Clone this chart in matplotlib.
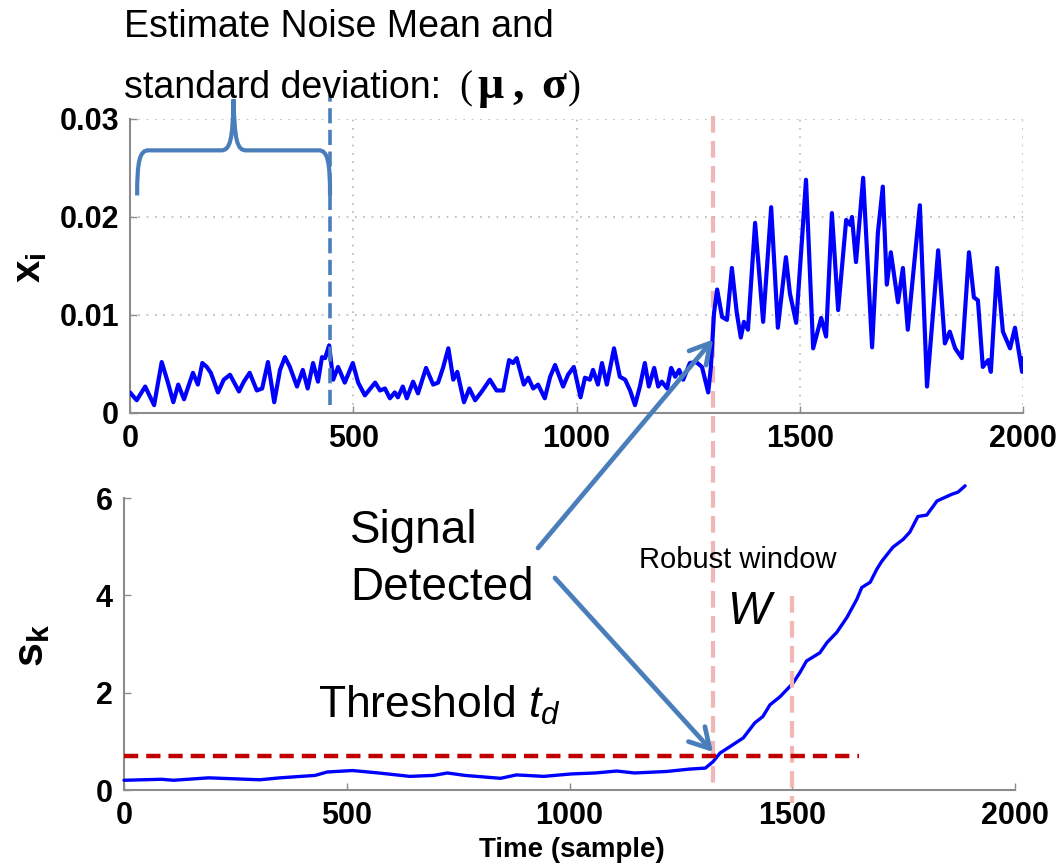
import matplotlib
matplotlib.use("Agg")
import matplotlib.pyplot as plt
from matplotlib.path import Path
from matplotlib.patches import PathPatch

plt.rcParams["font.family"] = ["Liberation Sans", "DejaVu Sans"]
plt.rcParams["mathtext.fontset"] = "custom"
plt.rcParams["mathtext.rm"] = "Liberation Sans"
plt.rcParams["mathtext.it"] = "Liberation Sans:italic"
plt.rcParams["mathtext.bf"] = "Liberation Sans:bold"

# ---- data ----
x_top = [0, 15, 34, 54, 71, 85, 97, 108, 121, 141, 152, 162, 172, 181, 197, 210, 224,
         244, 255, 268, 284, 296, 309, 323, 336, 347, 358, 374, 387, 398, 410, 421, 430,
         437, 446, 455, 466, 481, 499, 511, 526, 549, 560, 571, 582, 593, 600, 611, 620,
         634, 645, 663, 679, 690, 701, 713, 724, 733, 748, 760, 773, 788, 806, 821, 836,
         849, 858, 866, 882, 892, 903, 914, 929, 941, 952, 970, 981, 994, 1009, 1019,
         1030, 1037, 1048, 1057, 1068, 1084, 1097, 1109, 1120, 1131, 1142, 1153, 1162,
         1174, 1183, 1191, 1203, 1212, 1221, 1230, 1239, 1254, 1268, 1281, 1295, 1301,
         1308, 1315, 1326, 1337, 1348, 1359, 1368, 1375, 1384, 1400, 1418, 1436, 1451,
         1469, 1478, 1492, 1505, 1514, 1530, 1548, 1559, 1572, 1586, 1604, 1613, 1617,
         1626, 1642, 1662, 1675, 1686, 1695, 1704, 1720, 1731, 1742, 1769, 1785, 1810,
         1825, 1836, 1848, 1863, 1879, 1890, 1899, 1910, 1922, 1928, 1942, 1955, 1971,
         1982, 1998, 2000]
y_top = [0.0021, 0.0013, 0.0027, 0.0008, 0.0052, 0.0031, 0.0011, 0.0029, 0.0014, 0.0041,
         0.0029, 0.0051, 0.0047, 0.0041, 0.0021, 0.0034, 0.0039, 0.0022, 0.0032, 0.0041,
         0.0023, 0.0025, 0.0052, 0.0011, 0.0044, 0.0057, 0.0047, 0.0027, 0.0044, 0.0025,
         0.0051, 0.0032, 0.0057, 0.0056, 0.0069, 0.0034, 0.0047, 0.0031, 0.0051, 0.0031,
         0.0018, 0.0031, 0.0023, 0.0025, 0.0015, 0.0021, 0.0016, 0.0027, 0.0015, 0.0032,
         0.0020, 0.0046, 0.0029, 0.0031, 0.0046, 0.0066, 0.0034, 0.0042, 0.0011, 0.0025,
         0.0013, 0.0022, 0.0034, 0.0023, 0.0023, 0.0054, 0.0051, 0.0056, 0.0029, 0.0036,
         0.0025, 0.0029, 0.0015, 0.0037, 0.0049, 0.0027, 0.0039, 0.0047, 0.0016, 0.0036,
         0.0034, 0.0044, 0.0029, 0.0051, 0.0029, 0.0066, 0.0037, 0.0034, 0.0023, 0.0008,
         0.0027, 0.0051, 0.0027, 0.0046, 0.0027, 0.0032, 0.0025, 0.0046, 0.0037, 0.0044,
         0.0034, 0.0051, 0.0052, 0.0047, 0.0021, 0.0047, 0.0102, 0.0126, 0.0098, 0.0095,
         0.0148, 0.0102, 0.0077, 0.0093, 0.0085, 0.0194, 0.0093, 0.0210, 0.0087, 0.0159,
         0.0122, 0.0092, 0.0177, 0.0238, 0.0066, 0.0097, 0.0078, 0.0204, 0.0105, 0.0197,
         0.0192, 0.0200, 0.0154, 0.0240, 0.0067, 0.0184, 0.0231, 0.0131, 0.0164, 0.0113,
         0.0148, 0.0085, 0.0212, 0.0027, 0.0166, 0.0071, 0.0083, 0.0066, 0.0056, 0.0164,
         0.0118, 0.0115, 0.0047, 0.0054, 0.0042, 0.0148, 0.0083, 0.0066, 0.0087, 0.0042,
         0.0056]

x_bot = [0, 84, 111, 190, 305, 350, 429, 456, 513, 571, 642, 695, 726, 765, 845, 881,
         942, 1004, 1058, 1106, 1146, 1217, 1270, 1305, 1322, 1338, 1360, 1390, 1416,
         1434, 1450, 1473, 1502, 1517, 1532, 1562, 1578, 1600, 1623, 1645, 1656, 1675,
         1690, 1701, 1726, 1749, 1764, 1782, 1802, 1825, 1859, 1872, 1888]
y_bot = [0.20, 0.22, 0.20, 0.25, 0.21, 0.25, 0.30, 0.37, 0.40, 0.35, 0.28, 0.30, 0.35,
         0.30, 0.24, 0.31, 0.28, 0.33, 0.35, 0.39, 0.35, 0.38, 0.43, 0.45, 0.58, 0.76,
         0.89, 1.07, 1.38, 1.51, 1.75, 1.92, 2.20, 2.41, 2.65, 2.82, 3.03, 3.24, 3.55,
         3.92, 4.16, 4.27, 4.54, 4.70, 4.99, 5.15, 5.30, 5.62, 5.65, 5.94, 6.08, 6.12,
         6.25]

x_ticks = [0, 500, 1000, 1500, 2000]
x_ticklabels = ["0", "500", "1000", "1500", "2000"]
y_top_ticks = [0, 0.01, 0.02, 0.03]
y_top_ticklabels = ["0", "0.01", "0.02", "0.03"]
y_bot_ticks = [0, 2, 4, 6]
y_bot_ticklabels = ["0", "2", "4", "6"]

noise_end = 448        # end of noise estimation window
detect_at = 1306       # detection sample
window_end = 1500      # end of robust window
threshold = 0.70

BLUE = "#0000ff"
STEEL = "#4a7ebb"
PINK = "#f2b6b6"
RED = "#c00000"
GREY = "#8c8c8c"

W, H = 1060, 866


def fx(x):
    return x / W


def fy(y):
    return 1 - y / H


def style_axes(ax, yticks, ylabels):
    ax.set_xlim(0, 2000)
    ax.set_xticks(x_ticks, x_ticklabels, fontsize=22, fontweight="bold")
    ax.set_yticks(yticks, ylabels, fontsize=22, fontweight="bold")
    ax.tick_params(direction="in", length=5, width=1, color=GREY, pad=8)
    for s in ["top", "right"]:
        ax.spines[s].set_visible(False)
    for s in ["left", "bottom"]:
        ax.spines[s].set_color(GREY)
        ax.spines[s].set_linewidth(1.5)
    ax.set_facecolor("none")


fig = plt.figure(figsize=(10.6, 8.66), dpi=100)
ax1 = fig.add_axes([130 / W, 1 - 413 / H, 893 / W, 294 / H])
ax2 = fig.add_axes([124 / W, 1 - 790 / H, 891 / W, 292 / H])

# ---- top: x_i ----
style_axes(ax1, y_top_ticks, y_top_ticklabels)
ax1.set_ylim(0, 0.03)
ax1.grid(True, linestyle=(0, (1, 4)), color="#b5b5b5", linewidth=1.2)
ax1.plot([detect_at, detect_at], [0.0303, -0.0385], color=PINK, lw=3,
         dashes=(4, 2), clip_on=False, zorder=1)
ax1.plot(x_top, y_top, color=BLUE, lw=3, zorder=3,
         solid_joinstyle="round", solid_capstyle="round")
ax1.plot([noise_end, noise_end], [0.0008, 0.0324], color=STEEL, lw=2.6,
         dashes=(4.2, 1.8), clip_on=False, zorder=4)

# curly brace over the noise window
bx0, bx1 = 16, noise_end
bmid = (bx0 + bx1) / 2
verts = [(bx0, 0.0222), (bx0, 0.0256), (bx0 + 5, 0.0268), (bx0 + 25, 0.0268),
         (bmid - 28, 0.0268),
         (bmid - 8, 0.0268), (bmid - 2, 0.0278), (bmid, 0.0320),
         (bmid + 2, 0.0278), (bmid + 8, 0.0268), (bmid + 28, 0.0268),
         (bx1 - 25, 0.0268),
         (bx1 - 5, 0.0268), (bx1, 0.0256), (bx1, 0.0222)]
codes = [Path.MOVETO, Path.CURVE4, Path.CURVE4, Path.CURVE4, Path.LINETO,
         Path.CURVE4, Path.CURVE4, Path.CURVE4, Path.CURVE4, Path.CURVE4, Path.CURVE4,
         Path.LINETO, Path.CURVE4, Path.CURVE4, Path.CURVE4]
ax1.add_patch(PathPatch(Path(verts, codes), fill=False, edgecolor=STEEL, lw=3,
                        clip_on=False, zorder=4))

# ---- bottom: s_k ----
style_axes(ax2, y_bot_ticks, y_bot_ticklabels)
ax2.set_ylim(0, 6)
ax2.plot(x_bot, y_bot, color=BLUE, lw=2.4, clip_on=False, zorder=3,
         solid_joinstyle="round", solid_capstyle="round")
ax2.plot([window_end, window_end], [3.98, -0.27], color=PINK, lw=3,
         dashes=(4, 2), clip_on=False, zorder=4)
ax2.plot([0, 1650], [threshold, threshold], color=RED, lw=3.2,
         dashes=(3.2, 1.8), clip_on=False, zorder=5)

# ---- arrows ----
arrow = dict(arrowstyle="->,head_length=0.7,head_width=0.4", color=STEEL, lw=3.4,
             shrinkA=0, shrinkB=0, mutation_scale=20)
ax1.annotate("", xy=(detect_at, 0.0075), xycoords="data",
             xytext=(fx(538), fy(548)), textcoords="figure fraction",
             arrowprops=arrow, annotation_clip=False)
ax2.annotate("", xy=(1322, 0.78), xycoords="data",
             xytext=(fx(555), fy(578)), textcoords="figure fraction",
             arrowprops=arrow, annotation_clip=False)

# ---- texts ----
fig.text(fx(124), fy(37), "Estimate Noise Mean and", fontsize=27, va="baseline")
fig.text(fx(124), fy(98), "standard deviation:", fontsize=27, va="baseline")
fig.text(fx(459), fy(98), "(", fontsize=28, va="baseline", family="Liberation Serif")
fig.text(fx(477), fy(98), "\u03bc", fontsize=33, va="baseline",
         family="Liberation Serif", fontweight="bold")
fig.text(fx(512), fy(98), ",", fontsize=33, va="baseline",
         family="Liberation Serif", fontweight="bold")
fig.text(fx(541), fy(98), "\u03c3", fontsize=33, va="baseline",
         family="Liberation Serif", fontweight="bold")
fig.text(fx(568), fy(98), ")", fontsize=28, va="baseline", family="Liberation Serif")

fig.text(fx(350), fy(543), "Signal", fontsize=33, va="baseline")
fig.text(fx(350), fy(600), "Detected", fontsize=33, va="baseline")
fig.text(fx(318), fy(718), r"Threshold $t_d$", fontsize=32, va="baseline")
fig.text(fx(639), fy(568), "Robust window", fontsize=21, va="baseline")
fig.text(fx(727), fy(624), "W", fontsize=33, va="baseline", fontstyle="italic")

fig.text(fx(30), fy(268), r"$\mathbf{x}_{\mathbf{i}}$", fontsize=29, rotation=90,
         ha="center", va="center")
fig.text(fx(32), fy(645), r"$\mathbf{s}_{\mathbf{k}}$", fontsize=31, rotation=90,
         ha="center", va="center")
fig.text(fx(572), fy(850), "Time (sample)", fontsize=20, fontweight="bold",
         ha="center", va="center")

fig.savefig("out.png", dpi=100)
